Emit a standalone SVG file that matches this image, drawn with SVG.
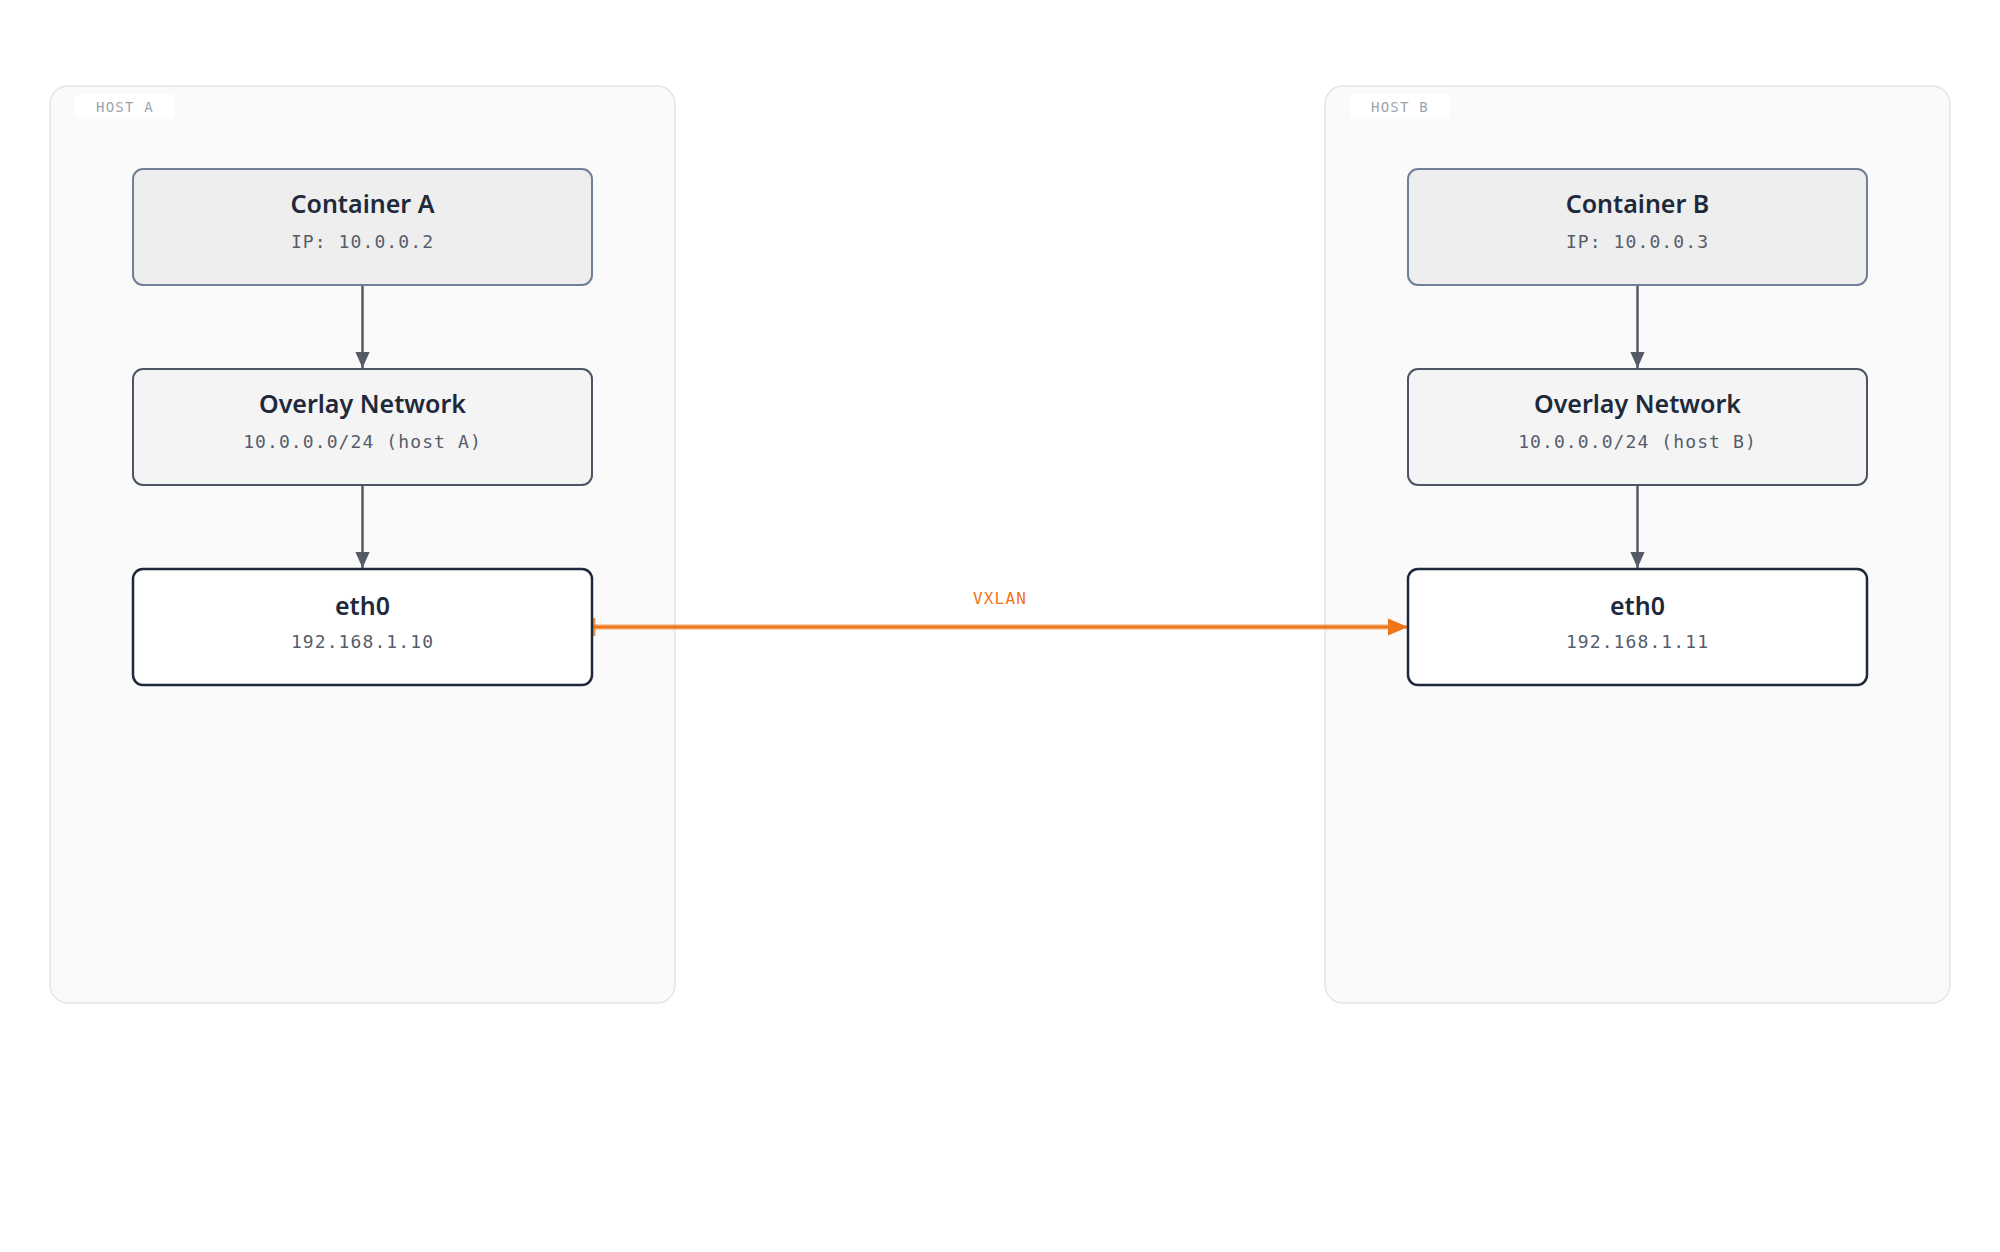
<svg xmlns="http://www.w3.org/2000/svg" width="2000" height="1252" viewBox="0 0 2000 1252">
<style>
.host{fill:#fafafa;stroke:#e5e5e5;stroke-width:1.5}
.pill{fill:#ffffff}
.hostlbl{font-family:"DejaVu Sans Mono",monospace;font-size:14px;letter-spacing:1.2px;fill:#9ca3af}
.title{font-family:"Noto Sans","Open Sans",sans-serif;font-size:25px;font-weight:600;fill:#1e293b;text-anchor:middle}
.sub{font-family:"DejaVu Sans Mono",monospace;font-size:18px;letter-spacing:1.1px;fill:#555d6b;text-anchor:middle}
.cont{fill:#eeeeee;stroke:#718096;stroke-width:2}
.ovl{fill:#f4f4f4;stroke:#4b5563;stroke-width:2}
.eth{fill:#ffffff;stroke:#1e293b;stroke-width:2.5}
.edge{stroke:#555b66;stroke-width:2.5;fill:none}
.vx{stroke:#ee7518;stroke-width:3;fill:none}
.vxlbl{font-family:"DejaVu Sans Mono",monospace;font-size:16px;letter-spacing:1.2px;fill:#ee7518;text-anchor:middle}
</style>
<defs>
<marker id="ag" markerWidth="16" markerHeight="18" refX="18" refY="8" viewBox="0 0 18 16" markerUnits="userSpaceOnUse" orient="auto" overflow="visible">
<path d="M0,0 L18,8 L0,16 Z" fill="#555b66"/>
</marker>
<marker id="ao" markerWidth="20" markerHeight="17" refX="20" refY="8.5" viewBox="0 0 20 17" markerUnits="userSpaceOnUse" orient="auto" overflow="visible">
<path d="M0,0 L20,8.5 L0,17 Z" fill="#ee7518"/>
</marker>
<marker id="bar" markerWidth="4" markerHeight="18" refX="1" refY="9" viewBox="0 0 4 18" markerUnits="userSpaceOnUse" orient="auto" overflow="visible">
<rect x="0" y="0" width="3.5" height="18" fill="#ee7518" opacity="0.75"/>
</marker>
</defs>
<rect width="2000" height="1252" fill="#ffffff"/>
<g id="hostA">
<rect class="host" x="50" y="86" width="625" height="917" rx="18"/>
<rect class="pill" x="75" y="94" width="99" height="25" rx="4"/>
<text class="hostlbl" x="96" y="112">HOST A</text>
</g>
<g id="hostB">
<rect class="host" x="1325" y="86" width="625" height="917" rx="18"/>
<rect class="pill" x="1350" y="94" width="100" height="25" rx="4"/>
<text class="hostlbl" x="1371" y="112">HOST B</text>
</g>
<g id="connectors">
<line class="edge" x1="362.5" y1="286" x2="362.5" y2="368" marker-end="url(#ag)"/>
<line class="edge" x1="362.5" y1="486" x2="362.5" y2="568" marker-end="url(#ag)"/>
<line class="edge" x1="1637.5" y1="286" x2="1637.5" y2="368" marker-end="url(#ag)"/>
<line class="edge" x1="1637.5" y1="486" x2="1637.5" y2="568" marker-end="url(#ag)"/>
<line x1="593" y1="627" x2="1395" y2="627" stroke="#ee7518" stroke-opacity="0.35" stroke-width="6"/>
<line class="vx" x1="593" y1="627" x2="1408" y2="627" marker-start="url(#bar)" marker-end="url(#ao)"/>
<text class="vxlbl" x="1000" y="604">VXLAN</text>
</g>
<g id="containerA">
<rect class="cont" x="133" y="169" width="459" height="116" rx="10"/>
<text class="title" x="362.5" y="213">Container A</text>
<text class="sub" x="362.5" y="248">IP: 10.0.0.2</text>
</g>
<g id="overlayA">
<rect class="ovl" x="133" y="369" width="459" height="116" rx="10"/>
<text class="title" x="362.5" y="413">Overlay Network</text>
<text class="sub" x="362.5" y="448">10.0.0.0/24 (host A)</text>
</g>
<g id="eth0A">
<rect class="eth" x="133" y="569" width="459" height="116" rx="10"/>
<text class="title" x="362.5" y="615">eth0</text>
<text class="sub" x="362.5" y="648">192.168.1.10</text>
</g>
<g id="containerB">
<rect class="cont" x="1408" y="169" width="459" height="116" rx="10"/>
<text class="title" x="1637.5" y="213">Container B</text>
<text class="sub" x="1637.5" y="248">IP: 10.0.0.3</text>
</g>
<g id="overlayB">
<rect class="ovl" x="1408" y="369" width="459" height="116" rx="10"/>
<text class="title" x="1637.5" y="413">Overlay Network</text>
<text class="sub" x="1637.5" y="448">10.0.0.0/24 (host B)</text>
</g>
<g id="eth0B">
<rect class="eth" x="1408" y="569" width="459" height="116" rx="10"/>
<text class="title" x="1637.5" y="615">eth0</text>
<text class="sub" x="1637.5" y="648">192.168.1.11</text>
</g>
</svg>
